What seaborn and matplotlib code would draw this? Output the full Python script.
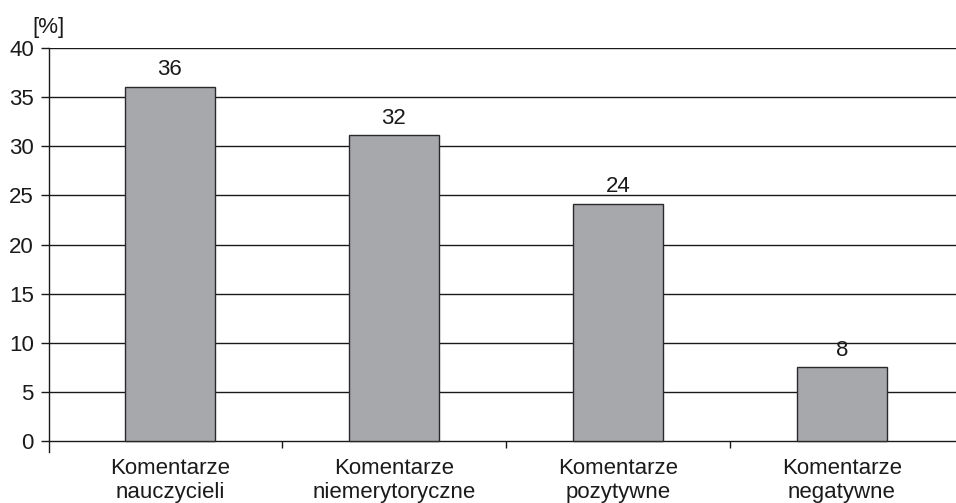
import matplotlib
matplotlib.use("Agg")
import matplotlib.pyplot as plt
import seaborn as sns
import pandas as pd

categories = ["Komentarze\nnauczycieli", "Komentarze\nniemerytoryczne",
              "Komentarze\npozytywne", "Komentarze\nnegatywne"]
values = [36.0, 31.1, 24.1, 7.5]
labels = ["36", "32", "24", "8"]
yticks = [0, 5, 10, 15, 20, 25, 30, 35, 40]

data = pd.DataFrame({"kategoria": categories, "procent": values})

sns.set_style("white")
plt.rcParams["font.family"] = ["Liberation Sans", "DejaVu Sans"]
plt.rcParams["font.size"] = 16

fig = plt.figure(figsize=(9.56, 5.03), dpi=100)
ax = fig.add_axes([0.0513, 0.1014, 0.9487, 0.8032])

sns.barplot(data=data, x="kategoria", y="procent", color="#a7a8ac",
            edgecolor="#2a2a2a", linewidth=1.0, width=0.4, saturation=1,
            ax=ax, zorder=3)

for c in ax.containers:
    ax.bar_label(c, labels=labels, padding=5, fontsize=16, color="#1a1a1a")

# siatka pozioma
for y in yticks[1:]:
    ax.axhline(y, color="#1a1a1a", linewidth=1.0, zorder=1)

ax.set_ylim(-1.1, 40)
ax.set_xlim(-0.54, 3.51)
ax.set_yticks(yticks)
ax.set_xticks(range(len(categories)))
ax.set_xticklabels(categories, linespacing=1.25)
ax.set_xticks([0.5, 1.5, 2.5], minor=True)

ax.spines["top"].set_visible(False)
ax.spines["right"].set_visible(False)
ax.spines["bottom"].set_position(("data", 0))
for s in ["left", "bottom"]:
    ax.spines[s].set_color("#1a1a1a")
    ax.spines[s].set_linewidth(1.0)

ax.tick_params(axis="y", direction="out", length=6, width=1.0, pad=5,
               colors="#1a1a1a", left=True)
ax.tick_params(axis="x", which="major", length=0, pad=12, colors="#1a1a1a")
ax.tick_params(axis="x", which="minor", direction="out", length=5, width=1.0,
               color="#1a1a1a", bottom=True)

ax.set_xlabel("")
ax.set_ylabel("")
fig.text(0.034, 0.935, "[%]", fontsize=16, color="#1a1a1a")

fig.savefig("out.png", dpi=100)
